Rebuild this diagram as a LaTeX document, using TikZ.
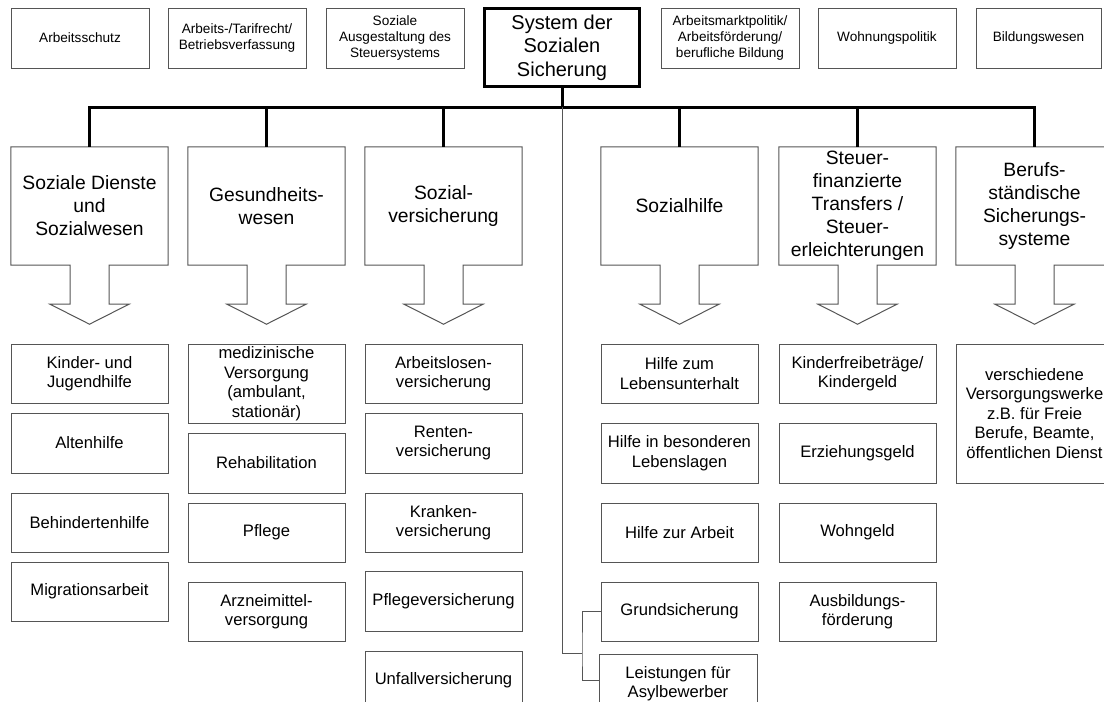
\documentclass[tikz,border=0pt]{standalone}
\usepackage{fontspec}
\setmainfont{Liberation Sans}
\usetikzlibrary{calc}
\newcommand\catarrow[1]{%
  \draw[gline, line join=miter] (#1.north west) -- (#1.north east) -- (#1.south east)
    -- ($(#1.south)+(19.5,0)$) -- ($(#1.south)+(19.5,39)$) -- ($(#1.south)+(39.5,39)$)
    -- ($(#1.south)+(0,59)$) -- ($(#1.south)+(-39.5,39)$) -- ($(#1.south)+(-19.5,39)$)
    -- ($(#1.south)+(-19.5,0)$) -- (#1.south west) -- cycle;}
\begin{document}
\begin{tikzpicture}[x=1pt,y=-1pt,
  gline/.style={draw={rgb,255:red,85;green,85;blue,85}, line width=1pt},
  box/.style={gline, rectangle, inner sep=0pt, align=center},
  topbox/.style={box, minimum width=138pt, minimum height=60pt, font=\fontsize{13.6}{15.7}\selectfont},
  subbox/.style={box, minimum width=157pt, minimum height=59pt, font=\fontsize{16.6}{19.5}\selectfont},
  catbox/.style={rectangle, inner sep=0pt, align=center, minimum width=157pt, minimum height=118pt, font=\fontsize{19.3}{23}\selectfont},
  conn/.style={draw=black, line width=3pt, line join=miter}]
\useasboundingbox (0,0) rectangle (1104,702);
\clip (0,0) rectangle (1104,702);
\fill[white] (0,0) rectangle (1104,702);

% top row
\node[topbox] (t1) at (80,38) {Arbeitsschutz};
\node[topbox] (t2) at (237,38) {Arbeits-/Tarifrecht/\\Betriebsverfassung};
\node[topbox] (t3) at (395,38) {Soziale\\Ausgestaltung des\\Steuersystems};
\node[draw=black, line width=3pt, rectangle, inner sep=0pt, align=center, minimum width=155pt, minimum height=78pt, font=\fontsize{20}{23.5}\selectfont] (main) at (562,47.5) {System der\\Sozialen\\Sicherung};
\node[topbox] (t4) at (730,38) {Arbeitsmarktpolitik/\\Arbeitsförderung/\\berufliche Bildung};
\node[topbox] (t5) at (887,38) {Wohnungspolitik};
\node[topbox, minimum width=125pt] (t6) at (1038.5,38) {Bildungswesen};

% categories
\node[catbox] (c1) at (89.5,206) {Soziale Dienste\\und\\Sozialwesen};
\node[catbox] (c2) at (266.5,206) {Gesundheits-\\wesen};
\node[catbox] (c3) at (443.5,206) {Sozial-\\versicherung};
\node[catbox] (c4) at (679.5,206) {Sozialhilfe};
\node[catbox] (c5) at (857.5,206) {Steuer-\\finanzierte\\Transfers /\\Steuer-\\erleichterungen};
\node[catbox] (c6) at (1034.5,206) {Berufs-\\ständische\\Sicherungs-\\systeme};
\catarrow{c1}\catarrow{c2}\catarrow{c3}\catarrow{c4}\catarrow{c5}\catarrow{c6}

% connectors
\coordinate (bar) at (562,107);
\draw[conn] (main.south) -- (bar);
\draw[conn] (c1.north) -- (c1.north |- bar) -- (c6.north |- bar) -- (c6.north);
\foreach \c in {c2,c3,c4,c5} \draw[conn] (\c.north) -- (\c.north |- bar);

% column 1
\node[subbox] (kinder) at (89.5,373.5) {Kinder- und\\Jugendhilfe};
\node[subbox, minimum height=60pt] (alten) at (89.5,443) {Altenhilfe};
\node[subbox] (behind) at (89.5,522.5) {Behindertenhilfe};
\node[subbox] (migr) at (89.5,591.5) {Migrationsarbeit};
% column 2
\node[subbox, minimum height=79pt] (med) at (266.5,383.5) {medizinische\\Versorgung\\(ambulant,\\stationär)};
\node[subbox, minimum height=60pt] (reha) at (266.5,463) {Rehabilitation};
\node[subbox] (pflege) at (266.5,532.5) {Pflege};
\node[subbox] (arznei) at (266.5,611.5) {Arzneimittel-\\versorgung};
% column 3
\node[subbox] (alv) at (443.5,373.5) {Arbeitslosen-\\versicherung};
\node[subbox, minimum height=60pt] (rv) at (443.5,443) {Renten-\\versicherung};
\node[subbox] (kv) at (443.5,522.5) {Kranken-\\versicherung};
\node[subbox, minimum height=60pt] (pv) at (443.5,601) {Pflegeversicherung};
\node[subbox] (uv) at (443.5,680.5) {Unfallversicherung};
% column 4
\node[subbox] (hlu) at (679.5,373.5) {Hilfe zum\\Lebensunterhalt};
\node[subbox, minimum height=60pt] (hbl) at (679.5,453) {Hilfe in besonderen\\Lebenslagen};
\node[subbox] (hza) at (679.5,532.5) {Hilfe zur Arbeit};
\node[subbox] (grund) at (679.5,611.5) {Grundsicherung};
\node[subbox, minimum width=158pt] (leist) at (678,683.5) {Leistungen für\\Asylbewerber};
% column 5
\node[subbox] (kfb) at (857.5,373.5) {Kinderfreibeträge/\\Kindergeld};
\node[subbox, minimum height=60pt] (erz) at (857.5,453) {Erziehungsgeld};
\node[subbox] (wohng) at (857.5,532.5) {Wohngeld};
\node[subbox] (ausb) at (857.5,611.5) {Ausbildungs-\\förderung};
% column 6
\node[subbox, minimum height=139pt] (vers) at (1034.5,413.5) {verschiedene\\Versorgungswerke\\z.B. für Freie\\Berufe, Beamte,\\öffentlichen Dienst};

% thin connector to Grundsicherung / Asylbewerber
\coordinate (j2) at (582,653);
\coordinate (lky) at (0,680);
\coordinate (lk) at (leist.west |- lky);
\draw[gline] (bar) |- (j2);
\draw[gline] (grund.west) -| (j2) |- (lk);
\end{tikzpicture}
\end{document}
